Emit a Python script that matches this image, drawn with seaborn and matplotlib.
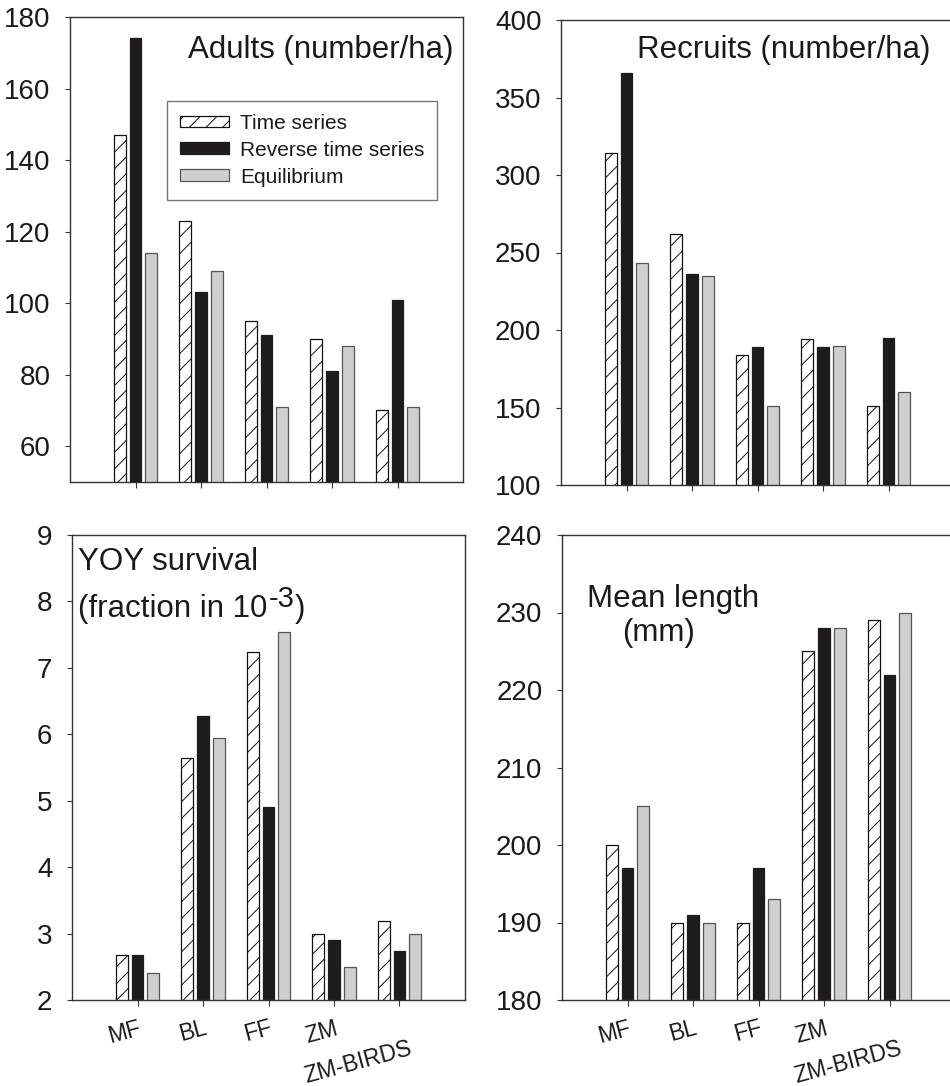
import numpy as np
import pandas as pd
import matplotlib
matplotlib.use("Agg")
import matplotlib.pyplot as plt
import seaborn as sns
from matplotlib.transforms import ScaledTranslation

# ---------------- data ----------------
sites = ["MF", "BL", "FF", "ZM", "ZM-BIRDS"]
series = ["Time series", "Reverse time series", "Equilibrium"]

adults_ts = [147, 123, 95, 90, 70]
adults_rev = [174, 103, 91, 81, 101]
adults_eq = [114, 109, 71, 88, 71]

recruits_ts = [314, 262, 184, 194, 151]
recruits_rev = [366, 236, 189, 189, 195]
recruits_eq = [243, 235, 151, 190, 160]

yoy_ts = [2.67, 5.65, 7.24, 3.00, 3.19]
yoy_rev = [2.67, 6.27, 4.90, 2.90, 2.74]
yoy_eq = [2.40, 5.95, 7.54, 2.49, 3.00]

length_ts = [200, 190, 190, 225, 229]
length_rev = [197, 191, 197, 228, 222]
length_eq = [205, 190, 193, 228, 230]

adults_yticks = [60, 80, 100, 120, 140, 160, 180]
recruits_yticks = [100, 150, 200, 250, 300, 350, 400]
yoy_yticks = [2, 3, 4, 5, 6, 7, 8, 9]
length_yticks = [180, 190, 200, 210, 220, 230, 240]

# ---------------- style ----------------
sns.set_style("white")
plt.rcParams["font.family"] = ["Liberation Sans", "DejaVu Sans"]
plt.rcParams["hatch.linewidth"] = 0.7
plt.rcParams["hatch.color"] = "#111111"

TXT = "#1a1a1a"
SPINE = "#333333"
face = {"Time series": "white", "Reverse time series": "#1f1c1d", "Equilibrium": "#cfcfcf"}
edge = {"Time series": "#111111", "Reverse time series": "#1f1c1d", "Equilibrium": "#555555"}

W, H = 950, 1086
fig = plt.figure(figsize=(W / 100, H / 100), dpi=100)


def rect(left, top, width=393, height=465):
    return [left / W, 1 - (top + height) / H, width / W, height / H]


def panel(r, ts, rev, eq, ylim, yticks, xlabels):
    ax = fig.add_axes(r)
    df = pd.DataFrame({
        "site": sites * 3,
        "series": np.repeat(series, len(sites)),
        "value": list(ts) + list(rev) + list(eq),
    })
    sns.barplot(data=df, x="site", y="value", hue="series", order=sites,
                hue_order=series, palette=face, width=0.72, gap=0.25,
                saturation=1, linewidth=1.0, errorbar=None, legend=False, ax=ax)
    for s, cont in zip(series, ax.containers):
        for p in cont:
            p.set_facecolor(face[s])
            p.set_edgecolor(edge[s])
            p.set_linewidth(0.9)
            if s == "Time series":
                p.set_hatch("//")
    ax.set_xlim(-1, 5)
    ax.set_ylim(*ylim)
    ax.set_yticks(yticks)
    ax.set_xlabel("")
    ax.set_ylabel("")
    for sp in ax.spines.values():
        sp.set_visible(True)
        sp.set_color(SPINE)
        sp.set_linewidth(1.0)
    ax.tick_params(axis="y", which="both", left=True, direction="out", length=3.6,
                   width=0.8, color=SPINE, pad=10.5, labelsize=20, labelcolor=TXT)
    ax.tick_params(axis="x", which="both", bottom=True, direction="out", length=4,
                   width=0.8, color=SPINE, pad=8, labelsize=16.5, labelcolor=TXT)
    ax.set_xticks(range(len(sites)))
    if xlabels:
        ax.set_xticklabels(sites, rotation=15, ha="right")
        for lab in ax.get_xticklabels():
            dx, dy = 6, 0
            if lab.get_text() == "ZM-BIRDS":
                dx, dy = 15, -20
            lab.set_transform(lab.get_transform() +
                              ScaledTranslation(dx / 100, dy / 100, fig.dpi_scale_trans))
    else:
        ax.set_xticklabels([])
    return ax


ax1 = panel(rect(70, 17), adults_ts, adults_rev, adults_eq, (50, 180), adults_yticks, False)
ax2 = panel(rect(561, 20), recruits_ts, recruits_rev, recruits_eq, (100, 400), recruits_yticks, False)
ax3 = panel(rect(72, 535), yoy_ts, yoy_rev, yoy_eq, (2, 9), yoy_yticks, True)
ax4 = panel(rect(562, 535), length_ts, length_rev, length_eq, (180, 240), length_yticks, True)

TS = 22.5
ax1.text(0.9746, 0.9112, "Adults (number/ha)", transform=ax1.transAxes,
         ha="right", va="baseline", fontsize=TS, color=TXT)
ax2.text(0.1926, 0.9176, "Recruits (number/ha)", transform=ax2.transAxes,
         ha="left", va="baseline", fontsize=TS, color=TXT)
ax3.text(0.0153, 0.9247, "YOY survival", transform=ax3.transAxes,
         ha="left", va="baseline", fontsize=TS, color=TXT)
t1 = ax3.text(0.0153, 0.8237, "(fraction in 10", transform=ax3.transAxes,
              ha="left", va="baseline", fontsize=TS, color=TXT)
sup = ax3.annotate("-3", xy=(1, 0.8237), xycoords=(t1, "axes fraction"),
                   xytext=(0.8, 7.2), textcoords="offset points",
                   ha="left", va="baseline", fontsize=21, color=TXT)
ax3.annotate(")", xy=(1, 0.8237), xycoords=(sup, "axes fraction"),
             xytext=(0.5, 0), textcoords="offset points",
             ha="left", va="baseline", fontsize=TS, color=TXT)
ax4.text(0.0636, 0.8452, "Mean length", transform=ax4.transAxes,
         ha="left", va="baseline", fontsize=TS, color=TXT)
ax4.text(0.1527, 0.772, "(mm)", transform=ax4.transAxes,
         ha="left", va="baseline", fontsize=TS, color=TXT)

# legend built from the bars themselves (keeps hatch)
handles = [cont[0] for cont in ax1.containers]
leg = ax1.legend(handles, series, loc="upper left", bbox_to_anchor=(0.2468, 0.8194),
                 borderaxespad=0, fontsize=15, frameon=True, fancybox=False,
                 handlelength=2.35, handleheight=0.5, handletextpad=0.53,
                 labelspacing=0.38, borderpad=0.62)
leg.get_frame().set_edgecolor("#555555")
leg.get_frame().set_linewidth(1.0)
leg.get_frame().set_facecolor("white")
for t in leg.get_texts():
    t.set_color(TXT)

fig.savefig("out.png", dpi=100)
